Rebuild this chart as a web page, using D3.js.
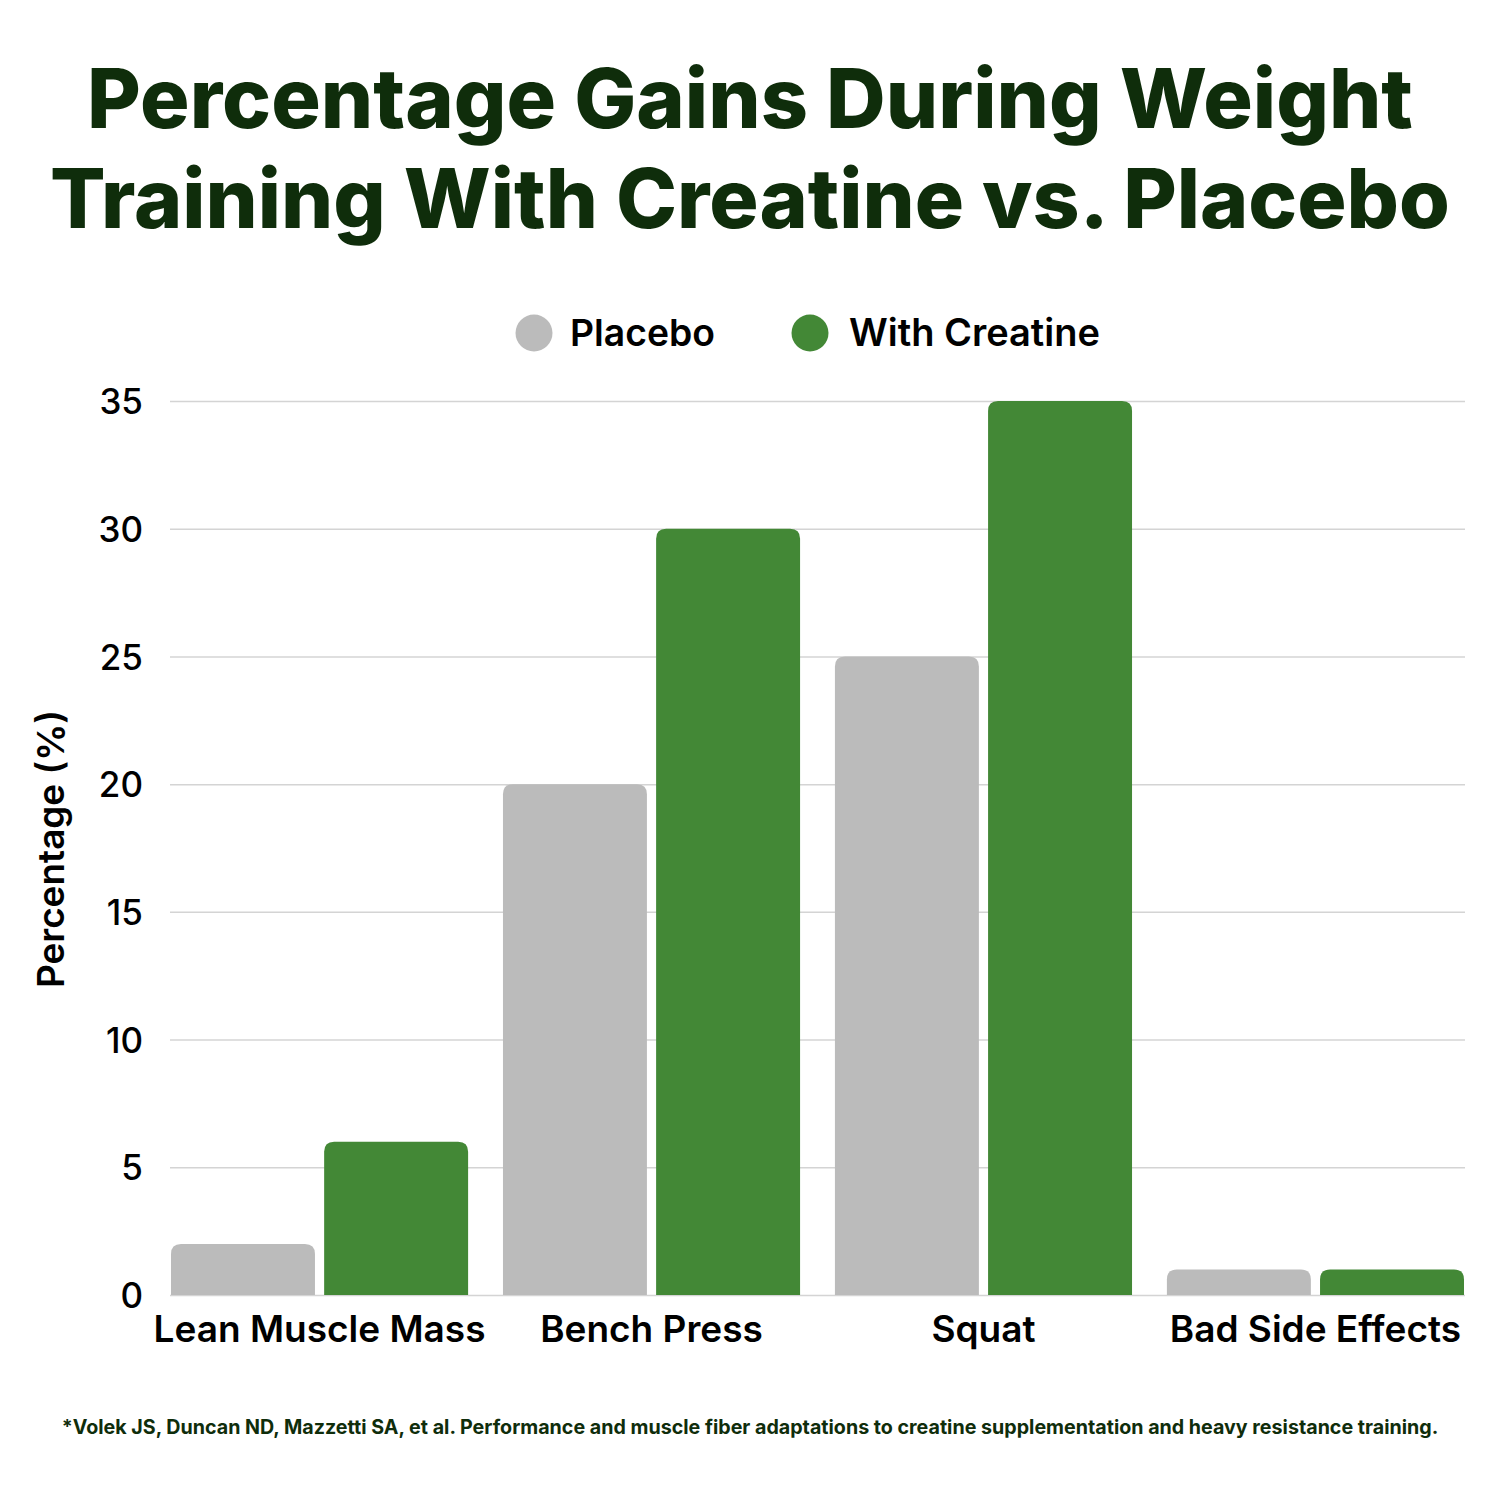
<!DOCTYPE html>
<html>
<head>
<meta charset="utf-8">
<script src="https://cdn.jsdelivr.net/npm/d3@7"></script>
<style>
  html, body { margin: 0; padding: 0; background: #ffffff; }
  svg { display: block; }
  text { font-family: Inter, "Noto Sans", sans-serif; }
</style>
</head>
<body>
<svg id="chart" width="1500" height="1500"></svg>
<script>
const categories = ["Lean Muscle Mass", "Bench Press", "Squat", "Bad Side Effects"];
const seriesNames = ["Placebo", "With Creatine"];
const placeboValues = [2, 20, 25, 1];
const creatineValues = [6, 30, 35, 1];
const yTicks = [0, 5, 10, 15, 20, 25, 30, 35];
const titleLines = ["Percentage Gains During Weight", "Training With Creatine vs. Placebo"];
const footnote = "*Volek JS, Duncan ND, Mazzetti SA, et al. Performance and muscle fiber adaptations to creatine supplementation and heavy resistance training.";
const colors = ["#bbbbbb", "#438836"];

const svg = d3.select("#chart");

function fit(sel, base, target) {
  const w = sel.node().getComputedTextLength();
  sel.attr("font-size", base * target / w);
  return base * target / w;
}

// Title
const titleColor = "#0f2d0b";
const titleSpecs = [
  { y: 128, width: 1326 },
  { y: 228, width: 1400 }
];
titleLines.forEach((line, i) => {
  const t = svg.append("text")
    .attr("x", 750).attr("y", titleSpecs[i].y)
    .attr("text-anchor", "middle")
    .attr("fill", titleColor)
    .attr("font-weight", 800)
    .attr("font-size", 80)
    .text(line);
  fit(t, 80, titleSpecs[i].width);
});

// Scales
const plotLeft = 170, plotRight = 1465, y0 = 1295, yTop = 401;
const y = d3.scaleLinear().domain([0, 35]).range([y0, yTop]);
const x0 = d3.scaleBand().domain(categories).range([171, 1464]).paddingInner(0.105).paddingOuter(0);
const x1 = d3.scaleBand().domain(seriesNames).range([0, x0.bandwidth()]).paddingInner(0.06).paddingOuter(0);

// Gridlines
const grid = svg.append("g").attr("transform", `translate(${plotLeft},0)`)
  .call(d3.axisLeft(y).tickValues(yTicks).tickSize(-(plotRight - plotLeft)).tickFormat(""));
grid.select(".domain").remove();
grid.selectAll(".tick line").attr("stroke", "#d4d4d4").attr("stroke-width", 1.5);

// Y axis labels
const yAxis = svg.append("g").attr("transform", `translate(${plotLeft},0)`)
  .call(d3.axisLeft(y).tickValues(yTicks).tickSize(0).tickPadding(27));
yAxis.select(".domain").remove();
yAxis.selectAll("text")
  .attr("font-family", "Inter, sans-serif")
  .attr("font-size", 35)
  .attr("font-weight", 500)
  .attr("fill", "#000")
  .attr("dy", "0.36em");

// Y axis title
const yt = svg.append("text")
  .attr("transform", `translate(64,849) rotate(-90)`)
  .attr("text-anchor", "middle")
  .attr("font-size", 31)
  .attr("font-weight", 600)
  .attr("fill", "#000")
  .text("Percentage (%)");
fit(yt, 31, 278);

// Bars
function topRounded(x, yy, w, h, r) {
  r = Math.min(r, h, w / 2);
  return `M${x},${yy + h}V${yy + r}Q${x},${yy} ${x + r},${yy}H${x + w - r}Q${x + w},${yy} ${x + w},${yy + r}V${yy + h}Z`;
}
const rows = categories.map((c, i) => ({ cat: c, vals: [placeboValues[i], creatineValues[i]] }));
const groups = svg.append("g").selectAll("g").data(rows).join("g")
  .attr("transform", d => `translate(${x0(d.cat)},0)`);
groups.selectAll("path").data(d => d.vals.map((v, j) => ({ s: seriesNames[j], v, j }))).join("path")
  .attr("d", d => topRounded(x1(d.s), y(d.v), x1.bandwidth(), y0 - y(d.v), 10))
  .attr("fill", d => colors[d.j]);

// X labels
const xAxis = svg.append("g").attr("transform", `translate(0,${y0})`)
  .call(d3.axisBottom(x0).tickSize(0).tickPadding(21));
xAxis.select(".domain").remove();
xAxis.selectAll("text")
  .attr("font-family", "Inter, sans-serif")
  .attr("font-size", 37)
  .attr("font-weight", 600)
  .attr("fill", "#000")
  .attr("dy", "0.71em");

// Legend
const legendItems = [
  { name: seriesNames[0], cx: 534, tx: 570, w: 145 },
  { name: seriesNames[1], cx: 810, tx: 849, w: 251 }
];
const lg = svg.append("g");
let legendSize = null;
legendItems.forEach((d, i) => {
  lg.append("circle").attr("cx", d.cx).attr("cy", 333).attr("r", 18.5).attr("fill", colors[i]);
  const t = lg.append("text").attr("x", d.tx).attr("y", 346)
    .attr("font-size", 35).attr("font-weight", 600).attr("fill", "#000")
    .text(d.name);
  if (i === 1) fit(t, 35, d.w);
  else fit(t, 35, d.w);
});

// Footnote
const fn = svg.append("text")
  .attr("x", 750).attr("y", 1434)
  .attr("text-anchor", "middle")
  .attr("font-size", 18)
  .attr("font-weight", 700)
  .attr("fill", titleColor)
  .text(footnote);
fit(fn, 18, 1378);
</script>
</body>
</html>
